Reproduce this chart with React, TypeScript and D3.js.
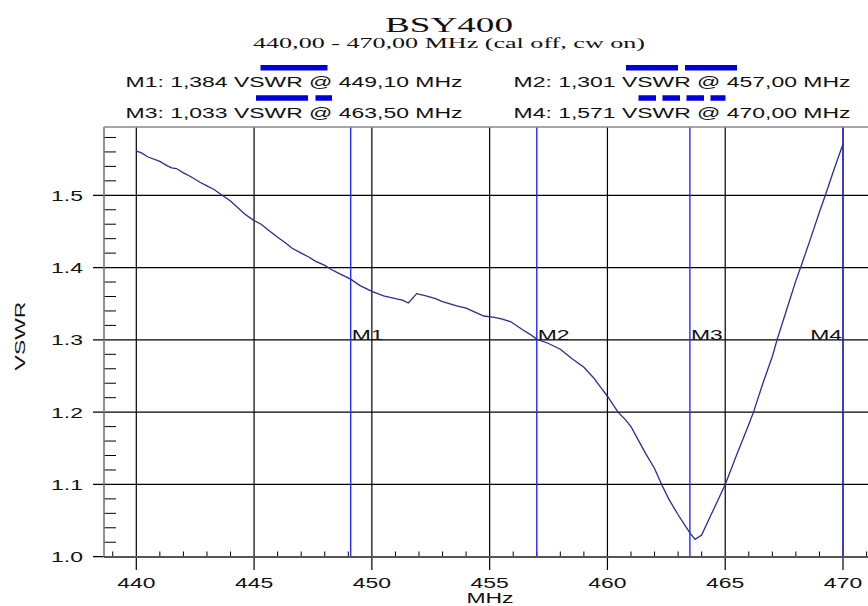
import React from 'react';
import * as d3 from 'd3';

const width = 868;
const height = 606;
const plot = { left: 104, top: 127, right: 868, bottom: 557 };

// trace
const freq = [
  440.0, 440.2, 440.5, 441.0, 441.3, 441.5, 441.7, 442.0, 442.3, 442.7,
  443.0, 443.3, 443.6, 444.0, 444.3, 444.6, 445.0, 445.3, 445.6, 446.0,
  446.3, 446.6, 447.0, 447.3, 447.6, 448.0, 448.3, 448.6, 449.1, 449.5,
  450.0, 450.5, 451.0, 451.3, 451.55, 451.9, 452.3, 452.7, 453.0, 453.6,
  454.0, 454.4, 454.75, 455.2, 455.5, 455.9, 456.4, 456.7, 457.0, 457.5,
  458.0, 458.5, 459.0, 459.4, 459.7, 460.0, 460.45, 460.75, 461.0, 461.3,
  461.6, 462.0, 462.3, 462.6, 463.0, 463.3, 463.5, 463.72, 464.0, 464.3,
  464.6, 465.0, 465.5, 466.0, 466.2, 466.6, 467.0, 467.2, 467.6, 468.0,
  468.2, 468.6, 469.0, 469.25, 469.6, 470.0,
];
const vswr = [
  1.561, 1.559, 1.553, 1.547, 1.541, 1.538, 1.537, 1.531, 1.526, 1.518,
  1.513, 1.508, 1.501, 1.492, 1.483, 1.474, 1.465, 1.46, 1.452, 1.442,
  1.435, 1.427, 1.42, 1.415, 1.409, 1.403, 1.397, 1.392, 1.384, 1.375,
  1.367, 1.361, 1.357, 1.355, 1.351, 1.364, 1.361, 1.357, 1.353, 1.347,
  1.344, 1.338, 1.333, 1.331, 1.329, 1.325, 1.314, 1.308, 1.301, 1.295,
  1.287, 1.274, 1.262, 1.248, 1.235, 1.222, 1.2, 1.19, 1.18, 1.162,
  1.144, 1.122, 1.1, 1.08, 1.058, 1.043, 1.033, 1.024, 1.03, 1.051,
  1.072, 1.1, 1.142, 1.183, 1.2, 1.24, 1.277, 1.3, 1.341, 1.382,
  1.4, 1.438, 1.477, 1.5, 1.534, 1.571,
];

const markerNames = ['M1', 'M2', 'M3', 'M4'];
const markerFreqs = [449.1, 457.0, 463.5, 470.0];
const markerValues = [1.384, 1.301, 1.033, 1.571];
const markerDash = ['', '52 7', '52 7.5 16.5 7.5', '17.5 6.5'];
const markerSampleLen = [67, 112, 76, 87];

const xTicks = [440, 445, 450, 455, 460, 465, 470];
const yTicks = [1.0, 1.1, 1.2, 1.3, 1.4, 1.5];

const sans = "'Liberation Sans', Arial, sans-serif";
const serif = "'Liberation Serif', 'Times New Roman', serif";
const stretch = 1.53;

const xScale = d3.scaleLinear().domain([440, 470]).range([136.3, 843]);
const yScale = d3.scaleLinear().domain([1.0, 1.5]).range([556.7, 195.3]);

const comma = (v: number, f: string) => d3.format(f)(v).replace('.', ',');

function SText({ x, y, anchor = 'start', sx = stretch, size = 15, family = sans, rotate = 0, children }: any) {
  return (
    <text
      transform={`translate(${x},${y}) rotate(${rotate}) scale(${sx},1)`}
      textAnchor={anchor}
      fontSize={size}
      fontFamily={family}
      fill="#111"
    >
      {children}
    </text>
  );
}

export default function App() {
  const line = d3.line<number>()
    .x((d, i) => xScale(freq[i]))
    .y(d => yScale(d));

  const xMinor = d3.range(439, 472, 1).filter(d => d % 5 !== 0);
  const yMinor = d3.range(0, 30).map(i => 1.0 + i * 0.02).filter((d, i) => i % 5 !== 0);
  const midY = (plot.top + plot.bottom) / 2 - 2.5;
  const fmtY = d3.format('.1f');

  const legendCols = [294, 682];
  const legendRows = [87.3, 117.5];

  return (
    <svg width={width} height={height} style={{ position: 'absolute', left: 0, top: 0, background: '#fff' }}>
      <rect width={width} height={height} fill="#fff" />

      <SText x={449} y={31.7} anchor="middle" sx={1.77} size={21} family={serif}>BSY400</SText>
      <SText x={449} y={48} anchor="middle" sx={1.74} size={15} family={serif}>440,00 - 470,00 MHz (cal off, cw on)</SText>

      {markerNames.map((m, i) => {
        const cx = legendCols[i % 2];
        const by = legendRows[Math.floor(i / 2)];
        const len = markerSampleLen[i];
        return (
          <g key={m}>
            <line x1={cx - len / 2} x2={cx + len / 2} y1={by - 19.5} y2={by - 19.5}
              stroke="#0000dd" strokeWidth={5.5} strokeDasharray={markerDash[i]} />
            <SText x={cx} y={by} anchor="middle">
              {`${m}: ${comma(markerValues[i], '.3f')} VSWR @ ${comma(markerFreqs[i], '.2f')} MHz`}
            </SText>
          </g>
        );
      })}

      {/* grid */}
      {xTicks.map(t => (
        <line key={'gx' + t} x1={xScale(t)} x2={xScale(t)} y1={plot.top} y2={plot.bottom + 13} stroke="#000" strokeWidth={1.2} />
      ))}
      {yTicks.map(t => (
        <line key={'gy' + t} x1={plot.left - 11} x2={plot.right} y1={yScale(t)} y2={yScale(t)} stroke="#000" strokeWidth={1.2} />
      ))}
      {xMinor.map(t => (
        <line key={'mx' + t} x1={xScale(t)} x2={xScale(t)} y1={plot.bottom} y2={plot.bottom - 5.5} stroke="#000" strokeWidth={1} />
      ))}
      {yMinor.map(t => (
        <line key={'my' + t} x1={plot.left} x2={plot.left + 12} y1={yScale(t)} y2={yScale(t)} stroke="#000" strokeWidth={1} />
      ))}

      {/* markers */}
      {markerFreqs.map((f, i) => {
        const mx = xScale(f);
        const lw = 31;
        const atEnd = mx + lw > plot.right - 10;
        return (
          <g key={'mk' + i}>
            <line x1={mx} x2={mx} y1={plot.top} y2={plot.bottom} stroke="#2a2aff" strokeWidth={1.4} />
            <SText x={atEnd ? mx - 1 : mx + 1} y={midY} anchor={atEnd ? 'end' : 'start'}>{markerNames[i]}</SText>
          </g>
        );
      })}

      <path d={line(vswr) || ''} fill="none" stroke="#2b2b9c" strokeWidth={1.3} />

      {/* frame */}
      <line x1={plot.left} x2={plot.left} y1={plot.top} y2={plot.bottom} stroke="#777" strokeWidth={1.6} />
      <line x1={plot.left} x2={plot.right} y1={plot.top} y2={plot.top} stroke="#888" strokeWidth={1.6} />
      <line x1={plot.left} x2={plot.right} y1={plot.bottom} y2={plot.bottom} stroke="#555" strokeWidth={2} />

      {/* tick labels */}
      {yTicks.map(t => (
        <SText key={'ly' + t} x={83} y={yScale(t) + 5.6} anchor="end">{fmtY(t)}</SText>
      ))}
      {xTicks.map(t => (
        <SText key={'lx' + t} x={xScale(t)} y={588.3} anchor="middle">{String(t)}</SText>
      ))}

      <SText x={25} y={336} anchor="middle" rotate={-90}>VSWR</SText>
      <SText x={490} y={603} anchor="middle">MHz</SText>
    </svg>
  );
}
